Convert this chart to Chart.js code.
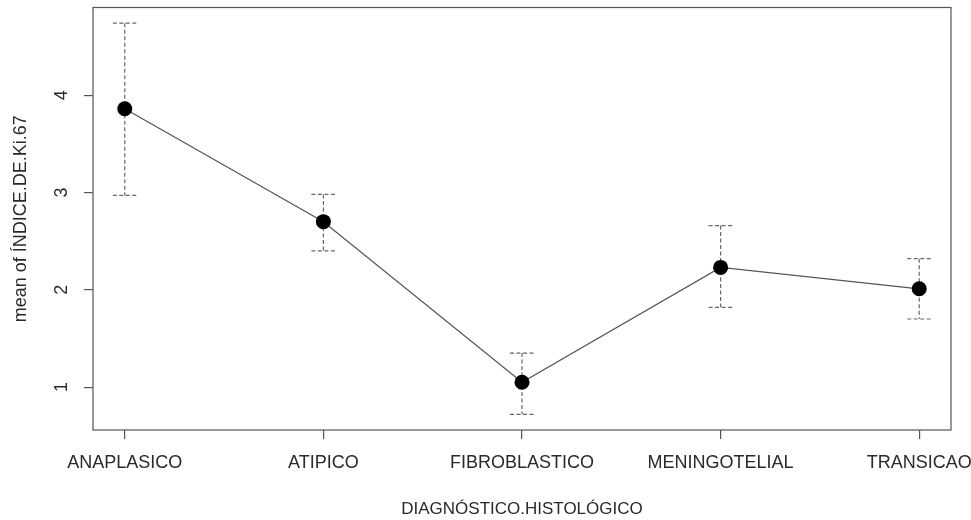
<!DOCTYPE html>
<html>
<head>
<meta charset="utf-8">
<script src="https://cdn.jsdelivr.net/npm/chart.js@4/dist/chart.umd.min.js"></script>
<style>
  html, body { margin: 0; padding: 0; background: #fff; }
  #wrap { width: 971px; height: 520px; }
</style>
</head>
<body>
<div id="wrap"><canvas id="c" width="971" height="520"></canvas></div>
<script>
// Mean Ki-67 index by histological diagnosis, with interval bars
const categories = ['ANAPLASICO', 'ATIPICO', 'FIBROBLASTICO', 'MENINGOTELIAL', 'TRANSICAO'];
const means = [3.86, 2.70, 1.05, 2.23, 2.01];
const lowers = [2.97, 2.40, 0.72, 1.82, 1.70];
const uppers = [4.74, 2.98, 1.35, 2.66, 2.32];
const yTicks = [1, 2, 3, 4];
const xTitle = 'DIAGNÓSTICO.HISTOLÓGICO';
const yTitle = 'mean of ÍNDICE.DE.Ki.67';

const FONT = 'Liberation Sans, Arial, sans-serif';
const TEXT = '#2a2a2a';
const FRAME = '#555';

// 4% padding on each side of the data range, as in base R plots
const yLo = Math.min(...lowers), yHi = Math.max(...uppers);
const yPad = (yHi - yLo) * 0.04;
const xPad = (categories.length - 1) * 0.04;

const errorBars = {
  id: 'errorBars',
  beforeDatasetsDraw(chart) {
    const { ctx, scales: { x, y } } = chart;
    ctx.save();
    ctx.strokeStyle = '#666';
    ctx.lineWidth = 1.2;
    ctx.setLineDash([4, 2.5]);
    categories.forEach((_, i) => {
      const px = x.getPixelForValue(i + 1);
      const top = y.getPixelForValue(uppers[i]);
      const bot = y.getPixelForValue(lowers[i]);
      const half = 12;
      ctx.beginPath();
      ctx.moveTo(px, top); ctx.lineTo(px, bot);
      ctx.moveTo(px - half, top); ctx.lineTo(px + half, top);
      ctx.moveTo(px - half, bot); ctx.lineTo(px + half, bot);
      ctx.stroke();
    });
    ctx.restore();
  },
  afterDraw(chart) {
    const { ctx, chartArea: a, scales: { y } } = chart;
    ctx.save();
    // plot frame
    ctx.strokeStyle = FRAME;
    ctx.lineWidth = 1.2;
    ctx.strokeRect(a.left, a.top, a.right - a.left, a.bottom - a.top);
    // y tick labels, written parallel to the axis
    ctx.fillStyle = TEXT;
    ctx.font = '18px ' + FONT;
    ctx.textAlign = 'center';
    ctx.textBaseline = 'middle';
    yTicks.forEach(v => {
      const py = y.getPixelForValue(v);
      ctx.save();
      ctx.translate(62, py);
      ctx.rotate(-Math.PI / 2);
      ctx.fillText(String(v), 0, 0);
      ctx.restore();
    });
    ctx.restore();
  }
};

new Chart(document.getElementById('c'), {
  type: 'line',
  data: {
    datasets: [{
      data: means.map((m, i) => ({ x: i + 1, y: m })),
      borderColor: FRAME,
      borderWidth: 1.2,
      pointRadius: 7.5,
      pointHoverRadius: 7.5,
      pointBackgroundColor: '#000',
      pointBorderColor: '#000',
      pointBorderWidth: 0,
      tension: 0
    }]
  },
  plugins: [errorBars],
  options: {
    responsive: false,
    animation: false,
    events: [],
    layout: { padding: { top: 7, right: 20, bottom: 0, left: 0 } },
    plugins: { legend: { display: false }, tooltip: { enabled: false } },
    scales: {
      x: {
        type: 'linear',
        min: 1 - xPad,
        max: categories.length + xPad,
        afterBuildTicks(s) { s.ticks = categories.map((_, i) => ({ value: i + 1 })); },
        afterFit(s) { s.height = 90; s.paddingLeft = 0; s.paddingRight = 0; },
        ticks: {
          callback: v => categories[v - 1] || '',
          color: TEXT,
          font: { family: FONT, size: 18 },
          padding: 13,
          maxRotation: 0,
          autoSkip: false
        },
        grid: { drawOnChartArea: false, drawTicks: true, tickLength: 9, color: FRAME, lineWidth: 1.2 },
        border: { display: false },
        title: {
          display: true,
          text: xTitle,
          color: TEXT,
          font: { family: FONT, size: 17 },
          padding: 0
        }
      },
      y: {
        type: 'linear',
        min: yLo - yPad,
        max: yHi + yPad,
        afterBuildTicks(s) { s.ticks = yTicks.map(v => ({ value: v })); },
        afterFit(s) { s.width = 93; },
        ticks: { display: false },
        grid: { drawOnChartArea: false, drawTicks: true, tickLength: 9, color: FRAME, lineWidth: 1.2 },
        border: { display: false },
        title: {
          display: true,
          text: yTitle,
          color: TEXT,
          font: { family: FONT, size: 18 },
          padding: { top: 10, bottom: 0 }
        }
      }
    }
  }
});
</script>
</body>
</html>
